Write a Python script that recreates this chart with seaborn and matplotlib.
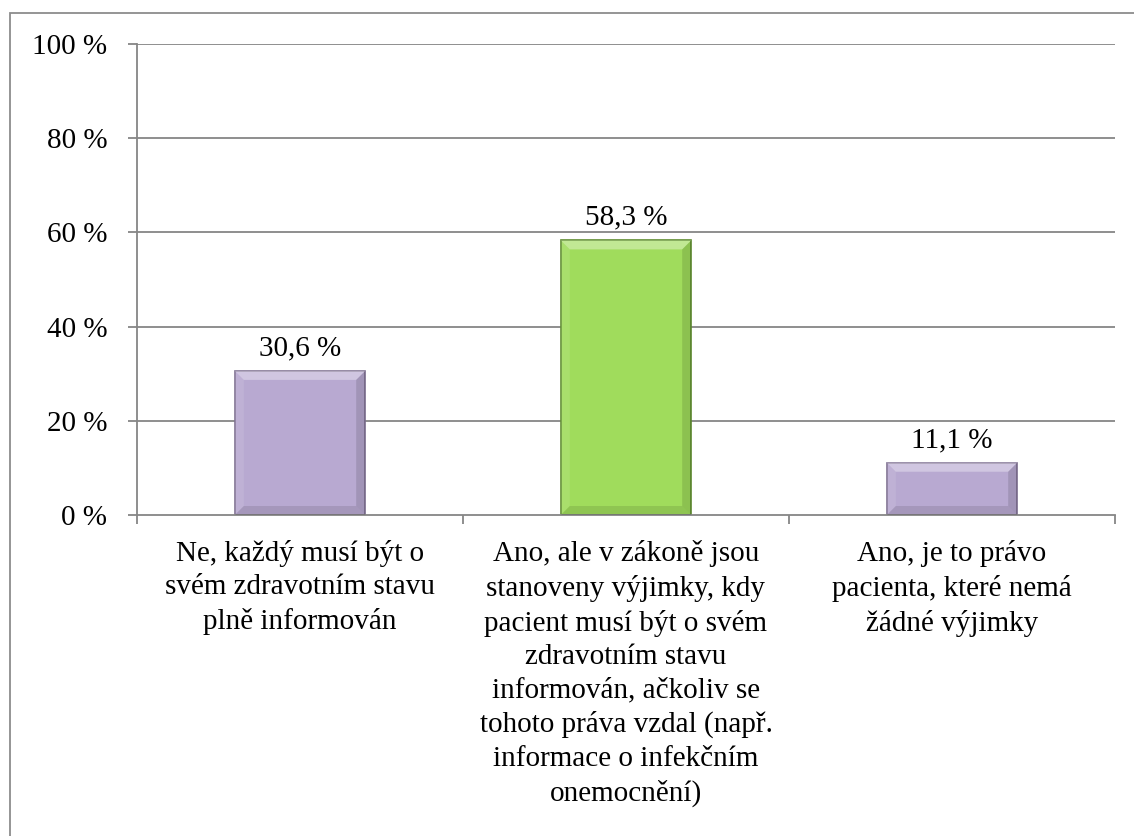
import matplotlib
matplotlib.use("Agg")
import matplotlib.pyplot as plt
import seaborn as sns
import pandas as pd
from matplotlib.patches import Rectangle, Polygon

categories = [
    "Ne, každý musí být o\nsvém zdravotním stavu\nplně informován",
    "Ano, ale v zákoně jsou\nstanoveny výjimky, kdy\npacient musí být o svém\nzdravotním stavu\ninformován, ačkoliv se\ntohoto práva vzdal (např.\ninformace o infekčním\nonemocnění)",
    "Ano, je to právo\npacienta, které nemá\nžádné výjimky",
]
values = [30.6, 58.3, 11.1]
value_labels = ["30,6 %", "58,3 %", "11,1 %"]
bar_colors = ["#B8A9D1", "#A0DC5C", "#B8A9D1"]
edge_colors = ["#7E7091", "#5F8C30", "#7E7091"]
y_ticks = [0, 20, 40, 60, 80, 100]
y_tick_labels = ["0 %", "20 %", "40 %", "60 %", "80 %", "100 %"]

FS = 21

sns.set_theme(style="white")
plt.rcParams["font.family"] = ["Liberation Serif", "DejaVu Serif"]

fig = plt.figure(figsize=(11.34, 8.36), dpi=100)
ax = fig.add_axes([137 / 1134, 1 - 515 / 836, (1115 - 137) / 1134, (515 - 44) / 836])

df = pd.DataFrame({"cat": categories, "val": values})
sns.barplot(data=df, x="cat", y="val", hue="cat", palette=bar_colors,
            width=0.4, legend=False, ax=ax, saturation=1, linewidth=1.2)

for p, ec in zip(ax.patches, edge_colors):
    p.set_edgecolor(ec)

ax.set_ylim(0, 100)
ax.set_xlim(-0.5, 2.5)
ax.set_yticks(y_ticks)
ax.set_yticklabels(y_tick_labels, fontsize=FS, color="black")
ax.set_xlabel("")
ax.set_ylabel("")

for y in y_ticks[1:]:
    ax.axhline(y, color="#868686", linewidth=1.3, zorder=0)

# bevel effect derived from bar geometry
fig.canvas.draw()
px_x = (ax.transData.transform((1, 0))[0] - ax.transData.transform((0, 0))[0])
px_y = (ax.transData.transform((0, 1))[1] - ax.transData.transform((0, 0))[1])
for p in list(ax.patches):
    x0, y0 = p.get_x(), p.get_y()
    w, h = p.get_width(), p.get_height()
    bx = 9 / px_x
    by = 9 / px_y
    x1, y1 = x0 + w, y0 + h
    top = Polygon([(x0, y1), (x1, y1), (x1 - bx, y1 - by), (x0 + bx, y1 - by)],
                  closed=True, facecolor="white", alpha=0.35, edgecolor="none", zorder=3)
    bottom = Polygon([(x0, y0), (x1, y0), (x1 - bx, y0 + by), (x0 + bx, y0 + by)],
                     closed=True, facecolor="black", alpha=0.10, edgecolor="none", zorder=3)
    right = Polygon([(x1, y0), (x1, y1), (x1 - bx, y1 - by), (x1 - bx, y0 + by)],
                    closed=True, facecolor="black", alpha=0.12, edgecolor="none", zorder=3)
    left = Polygon([(x0, y0), (x0, y1), (x0 + bx, y1 - by), (x0 + bx, y0 + by)],
                   closed=True, facecolor="white", alpha=0.10, edgecolor="none", zorder=3)
    for poly in (top, bottom, right, left):
        ax.add_patch(poly)

for i, (v, lab) in enumerate(zip(values, value_labels)):
    ax.annotate(lab, (i, v), xytext=(0, 7), textcoords="offset points",
                ha="center", va="bottom", fontsize=FS, color="black")

for s in ["top", "right"]:
    ax.spines[s].set_visible(False)
for s in ["left", "bottom"]:
    ax.spines[s].set_color("#868686")
    ax.spines[s].set_linewidth(1.3)

ax.tick_params(axis="y", which="major", length=6.5, width=1.3, color="#868686",
               direction="out", pad=15, left=True)
ax.tick_params(axis="x", which="major", length=0, pad=18)
ax.set_xticks([0, 1, 2])
ax.set_xticklabels(categories, fontsize=FS, color="black", linespacing=1.37,
                   ha="center", va="top")
ax.set_xticks([-0.5, 0.5, 1.5, 2.5], minor=True)
ax.tick_params(axis="x", which="minor", length=6.5, width=1.3, color="#868686",
               direction="out", bottom=True)

frame = Rectangle((10 / 1134, -0.05), 1.1, 1 - 13 / 836 + 0.05, transform=fig.transFigure,
                  fill=False, edgecolor="#8C8C8C", linewidth=1.3, clip_on=False)
fig.patches.append(frame)

fig.savefig("out.png", dpi=100)
